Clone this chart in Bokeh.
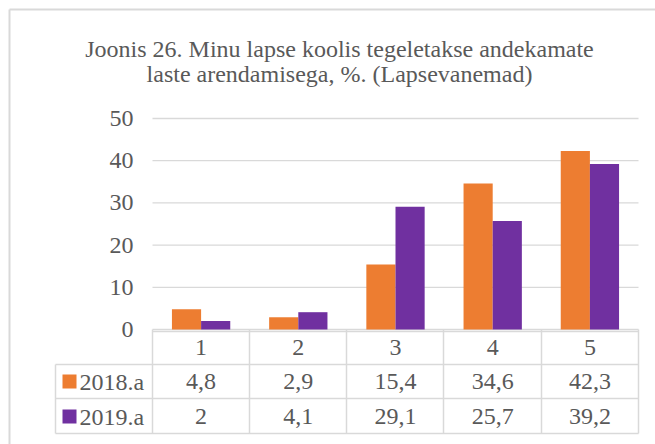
from bokeh.plotting import figure
from bokeh.models import Range1d
from bokeh.core.properties import value
from bokeh.embed import file_html
from bokeh.resources import INLINE

# ---- data ----
categories = ["1", "2", "3", "4", "5"]
series_names = ["2018.a", "2019.a"]
values_2018 = [4.8, 2.9, 15.4, 34.6, 42.3]
values_2019 = [2, 4.1, 29.1, 25.7, 39.2]
labels_2018 = ["4,8", "2,9", "15,4", "34,6", "42,3"]
labels_2019 = ["2", "4,1", "29,1", "25,7", "39,2"]
y_ticks = [0, 10, 20, 30, 40, 50]
title_lines = ["Joonis 26. Minu lapse koolis tegeletakse andekamate",
               "laste arendamisega, %. (Lapsevanemad)"]

ORANGE = "#ED7D31"
PURPLE = "#7030A0"
TEXT = "#595959"
GRID = "#D9D9D9"
FONT = value("Liberation Serif")

# ---- layout helpers (page pixels -> data coords) ----
COL_W = 97.2
X_LEFT = 152.0
Y_ZERO = 329.0
PX_PER_UNIT = 4.22


def dx(px):
    return 0.5 + (px - X_LEFT) / COL_W


def dy(py):
    return (Y_ZERO - py) / PX_PER_UNIT


W, H = 655, 444
p = figure(width=W, height=H,
           x_range=Range1d(dx(0), dx(W)), y_range=Range1d(dy(H), dy(0)),
           x_axis_location=None, y_axis_location=None,
           min_border=0, toolbar_location=None, output_backend="svg")
p.grid.visible = False
p.outline_line_color = None
p.background_fill_color = "white"
p.border_fill_color = "white"

xs = [i + 1 for i in range(len(categories))]

# outer chart border (top and left visible)
p.segment(x0=[dx(9), dx(9)], y0=[dy(9), dy(9)], x1=[dx(660), dx(9)], y1=[dy(9), dy(450)],
          line_color=GRID, line_width=2)

# gridlines
p.segment(x0=[dx(X_LEFT)] * len(y_ticks), x1=[dx(638)] * len(y_ticks),
          y0=y_ticks, y1=y_ticks, line_color=GRID, line_width=1.3)

# y tick labels
p.text(x=[dx(133)] * len(y_ticks), y=y_ticks, text=[str(t) for t in y_ticks],
       text_align="right", text_baseline="middle", text_font=FONT,
       text_font_size="24px", text_color=TEXT)

# bars
p.vbar(x=[x - 0.15 for x in xs], top=values_2018, width=0.3, bottom=0,
       fill_color=ORANGE, line_color=None)
p.vbar(x=[x + 0.15 for x in xs], top=values_2019, width=0.3, bottom=0,
       fill_color=PURPLE, line_color=None)

# title
p.text(x=[dx(339), dx(339)], y=[dy(48), dy(73)], text=title_lines,
       text_align="center", text_baseline="middle", text_font=FONT,
       text_font_size="24px", text_color=TEXT)

# data table lines
row_tops = [331, 364, 398, 433]
col_lines = [152, 249, 346, 443, 541, 638]
p.segment(x0=[dx(152)], x1=[dx(638)], y0=[dy(row_tops[0])], y1=[dy(row_tops[0])],
          line_color=GRID, line_width=1.5)
p.segment(x0=[dx(55)] * 3, x1=[dx(638)] * 3, y0=[dy(r) for r in row_tops[1:]],
          y1=[dy(r) for r in row_tops[1:]], line_color=GRID, line_width=1.5)
p.segment(x0=[dx(c) for c in col_lines], x1=[dx(c) for c in col_lines],
          y0=[dy(329)] * len(col_lines), y1=[dy(433)] * len(col_lines),
          line_color=GRID, line_width=1.5)
p.segment(x0=[dx(55)], x1=[dx(55)], y0=[dy(364)], y1=[dy(433)],
          line_color=GRID, line_width=1.5)

# header row
p.text(x=xs, y=[dy(347)] * len(xs), text=categories, text_align="center",
       text_baseline="middle", text_font=FONT, text_font_size="24px", text_color=TEXT)
# series rows
p.text(x=xs, y=[dy(381)] * len(xs), text=labels_2018, text_align="center",
       text_baseline="middle", text_font=FONT, text_font_size="24px", text_color=TEXT)
p.text(x=xs, y=[dy(416)] * len(xs), text=labels_2019, text_align="center",
       text_baseline="middle", text_font=FONT, text_font_size="24px", text_color=TEXT)
# legend keys
p.scatter(x=[dx(69), dx(69)], y=[dy(381), dy(416)], marker="square", size=14,
          fill_color=[ORANGE, PURPLE], line_color=None)
p.text(x=[dx(79), dx(79)], y=[dy(381), dy(416)], text=series_names, text_align="left",
       text_baseline="middle", text_font=FONT, text_font_size="24px", text_color=TEXT)

open("out.html", "w").write(file_html(p, INLINE))
